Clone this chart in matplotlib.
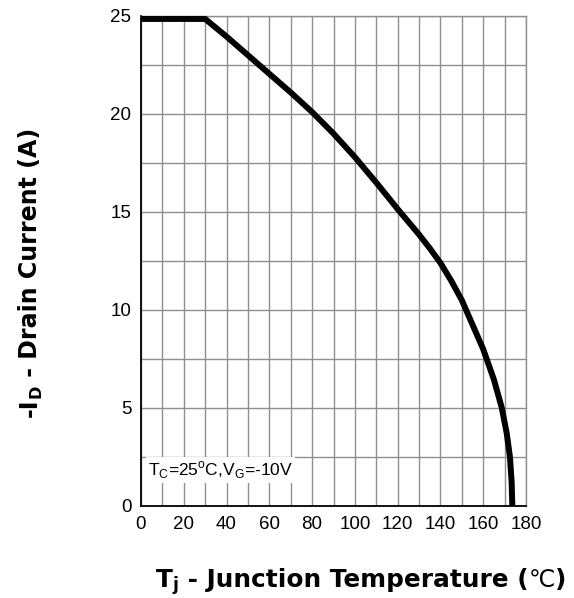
import matplotlib
matplotlib.use("Agg")
import matplotlib.pyplot as plt
from matplotlib import font_manager
from matplotlib.transforms import IdentityTransform
import numpy as np

# ---- data ----
temp_c = [0, 30, 40, 50, 60, 70, 80, 90, 100, 110, 120, 130, 135, 140, 145, 150,
          155, 160, 165, 168.7, 171, 172.5, 173.3, 173.6]
drain_a = [24.85, 24.85, 23.95, 23.0, 22.05, 21.1, 20.1, 19.0, 17.8, 16.5, 15.15,
           13.85, 13.15, 12.4, 11.5, 10.5, 9.25, 8.0, 6.45, 5.0, 3.7, 2.5, 1.2, 0.0]
x_ticks = [0, 20, 40, 60, 80, 100, 120, 140, 160, 180]
y_ticks = [0, 5, 10, 15, 20, 25]

names = {f.name for f in font_manager.fontManager.ttflist}
NARROW = "Liberation Sans Narrow" if "Liberation Sans Narrow" in names else "Liberation Sans"
LABEL_FONT = "DejaVu Sans"

W, H = 574, 598
fig = plt.figure(figsize=(W / 100, H / 100), dpi=100)
ax = fig.add_axes([141 / W, 1 - 506 / H, (526 - 141) / W, (506 - 16) / H])

grid_c = "#8f8f8f"
ax.set_xlim(0, 180)
ax.set_ylim(0, 25)
ax.set_xticks(x_ticks)
ax.set_xticks(np.arange(0, 181, 10), minor=True)
ax.set_yticks(y_ticks)
ax.set_yticks(np.arange(0, 25.1, 2.5), minor=True)
ax.set_axisbelow(True)
ax.grid(True, which="both", color=grid_c, linewidth=1.0)
ax.tick_params(which="both", length=0)
ax.tick_params(axis="x", pad=7)
ax.tick_params(axis="y", pad=7)
for lab in ax.get_xticklabels() + ax.get_yticklabels():
    lab.set_fontfamily(NARROW)
    lab.set_fontsize(13.5)
for s in ["left", "bottom"]:
    ax.spines[s].set_color("black")
    ax.spines[s].set_linewidth(1.3)
for s in ["top", "right"]:
    ax.spines[s].set_color(grid_c)
    ax.spines[s].set_linewidth(1.0)

ax.plot(temp_c, drain_a, color="black", linewidth=4.3, solid_joinstyle="round",
        solid_capstyle="butt", zorder=5, clip_on=False)

ax.text(3.5, 1.85,
        r"T$_\mathregular{C}$=25$^\mathregular{o}$C,V$_\mathregular{G}$=-10V",
        fontsize=12.5, family=NARROW, va="center", ha="left", zorder=4,
        bbox=dict(facecolor="white", edgecolor="none", pad=1.5))

# ---- axis labels built from pieces ----
renderer = fig.canvas.get_renderer()


def piece_width(s, size, fam, weight):
    t = fig.text(0, 0, s, fontsize=size, family=fam, fontweight=weight)
    w = t.get_window_extent(renderer).width
    t.remove()
    return w


def place(pieces, cx, cy, target, rotation=0):
    # pieces: (text, relative size, relative drop, family, weight)
    base = 16.0
    tot = sum(piece_width(s, base * rs, fam, wt) for s, rs, dy, fam, wt in pieces)
    size = base * target / tot
    widths = [piece_width(s, size * rs, fam, wt) for s, rs, dy, fam, wt in pieces]
    pos = -sum(widths) / 2
    for (s, rs, dy, fam, wt), w in zip(pieces, widths):
        d = dy * size
        if rotation == 0:
            x, y = cx + pos, cy - d
        else:
            x, y = cx + d, cy + pos
        fig.text(x, y, s, fontsize=size * rs, family=fam, fontweight=wt,
                 rotation=rotation, rotation_mode="anchor",
                 ha="left", va="baseline", transform=IdentityTransform())
        pos += w


place([("T", 1.0, 0, LABEL_FONT, "bold"),
       ("j", 0.68, 0.18, LABEL_FONT, "bold"),
       (" - Junction Temperature (", 1.0, 0, LABEL_FONT, "bold"),
       ("\u2103", 0.95, 0, LABEL_FONT, "normal"),
       (")", 1.0, 0, LABEL_FONT, "bold")],
      cx=361, cy=H - 587, target=410)

place([("-I", 1.0, 0, LABEL_FONT, "bold"),
       ("D", 0.68, 0.18, LABEL_FONT, "bold"),
       (" - Drain Current (A)", 1.0, 0, LABEL_FONT, "bold")],
      cx=37, cy=H - 272, target=290, rotation=90)

fig.savefig("out.png", dpi=100)
